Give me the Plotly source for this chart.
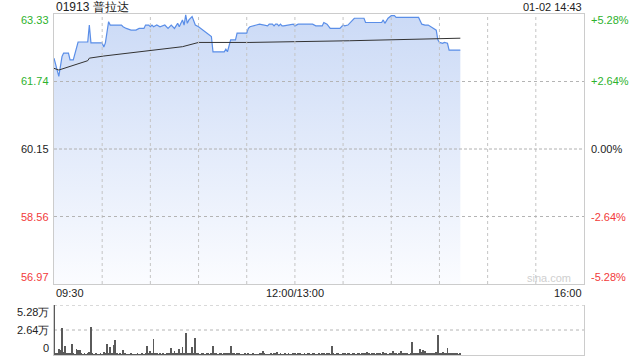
import plotly.graph_objects as go

# ---------------- data ----------------
stock_title = "01913 普拉达"
stamp = "01-02 14:43"
prev_close = 60.15
price_ticks = [56.97, 58.56, 60.15, 61.74, 63.33]
pct_ticks = ["-5.28%", "-2.64%", "0.00%", "+2.64%", "+5.28%"]
vol_ticks = [0, 2.64, 5.28]
vol_tick_text = ["0", "2.64万", "5.28万"]
time_labels = ["09:30", "12:00/13:00", "16:00"]

price_times = ["09:30", "09:33", "09:35", "09:36", "09:39", "09:40", "09:42", "09:44", "09:45", "09:51",
               "09:52", "09:53", "10:00", "10:01", "10:02", "10:04", "10:05", "10:12", "10:13", "10:15",
               "10:18", "10:21", "10:23", "10:26", "10:27", "10:29", "10:30", "10:31", "10:32", "10:34",
               "10:36", "10:39", "10:41", "10:43", "10:45", "10:47", "10:48", "10:49", "10:50", "10:51",
               "10:52", "10:53", "10:54", "10:56", "10:58", "11:00", "11:08", "11:09", "11:16", "11:17",
               "11:18", "11:20", "11:23", "11:24", "11:30", "11:31", "11:32", "11:36", "11:38", "11:43",
               "11:44", "11:46", "11:47", "11:48", "11:49", "11:50", "11:51", "11:52", "11:53", "11:59",
               "13:00", "13:02", "13:11", "13:13", "13:17", "13:18", "13:20", "13:22", "13:28", "13:30",
               "13:31", "13:33", "13:37", "13:43", "13:44", "13:54", "13:55", "13:56", "13:58", "14:00",
               "14:02", "14:03", "14:17", "14:19", "14:21", "14:23", "14:26", "14:28", "14:29", "14:30",
               "14:32", "14:33", "14:35", "14:36", "14:43"]
price_values = [62.29, 61.86, 62.33, 62.41, 62.41, 62.25, 62.25, 62.53, 62.67, 62.67,
                63.07, 62.65, 62.65, 62.55, 62.65, 63.15, 63.07, 63.07, 63.03, 62.99,
                62.95, 62.95, 62.99, 62.99, 63.07, 63.07, 63.03, 63.07, 63.03, 63.07,
                63.03, 63.07, 62.99, 63.07, 62.99, 63.11, 63.03, 63.11, 63.19, 63.07,
                63.31, 63.11, 63.19, 63.27, 63.07, 63.03, 62.80, 62.44, 62.44, 62.50,
                62.44, 62.72, 62.72, 62.88, 62.88, 62.99, 63.03, 63.07, 63.09, 63.05,
                63.09, 63.09, 63.05, 63.09, 63.09, 63.05, 63.09, 63.05, 63.05, 63.09,
                63.05, 63.09, 63.09, 63.05, 63.05, 63.13, 63.09, 62.99, 62.99, 63.07,
                63.05, 63.07, 63.23, 63.23, 63.13, 63.13, 63.19, 63.11, 63.23, 63.29,
                63.29, 63.25, 63.25, 63.09, 63.07, 63.07, 62.99, 62.95, 62.72, 62.66,
                62.64, 62.66, 62.64, 62.48, 62.48]

avg_times = ["09:30", "09:33", "09:51", "09:52", "10:01", "10:30", "10:50", "11:00", "11:32",
             "13:34", "13:59", "14:28", "14:43"]
avg_values = [62.05, 62.01, 62.23, 62.29, 62.34, 62.48, 62.56, 62.66, 62.66,
              62.70, 62.72, 62.76, 62.76]

# volume per minute (万), 09:30 onward
volume = [
    5.30, 0.15, 0.20, 0.63, 0.50, 2.82, 0.30, 0.95, 0.15, 0.20,
    0.12, 1.16, 0.20, 0.10, 0.60, 0.53, 0.53, 0.15, 0.10, 0.12,
    0.10, 0.15, 0.35, 2.99, 0.25, 0.10, 0.12, 0.08, 0.10, 0.15,
    0.10, 0.35, 0.12, 1.16, 0.20, 0.88, 0.15, 1.06, 1.58, 0.12,
    0.10, 0.15, 0.10, 0.53, 0.12, 0.10, 0.08, 0.10, 0.12, 0.10,
    0.08, 0.10, 0.12, 0.08, 0.10, 0.15, 0.10, 0.12, 0.95, 0.20,
    0.40, 0.15, 1.69, 0.20, 0.12, 0.10, 0.15, 0.10, 0.12, 0.10,
    0.15, 0.20, 0.12, 0.70, 0.15, 0.40, 0.12, 0.15, 0.63, 0.20,
    0.88, 0.15, 2.36, 0.20, 0.12, 0.15, 0.88, 0.20, 1.83, 0.15,
    0.12, 0.10, 0.15, 0.12, 0.10, 0.12, 0.15, 0.10, 0.20, 0.95,
    0.15, 0.12, 0.10, 0.12, 0.15, 0.10, 0.12, 0.20, 0.15, 0.20,
    0.95, 0.15, 0.12, 0.10, 0.25, 0.12, 0.10, 0.08, 0.10, 0.12,
    0.10, 0.12, 0.08, 0.10, 0.12, 0.10, 0.08, 0.10, 0.12, 0.15,
    0.46, 0.12, 0.10, 0.08, 0.10, 0.12, 0.10, 0.15, 0.12, 0.30,
    0.10, 0.12, 0.08, 0.10, 0.15, 0.10, 0.12, 0.10, 0.08, 0.15,
    0.12, 0.10, 0.15, 0.12, 0.10, 0.08, 0.12, 0.10, 0.15, 0.12,
    0.10, 0.12, 0.15, 0.10, 0.08, 0.12, 0.10, 0.15, 0.12, 0.10,
    0.12, 0.15, 0.10, 0.95, 0.12, 0.10, 0.15, 0.12, 0.10, 0.08,
    0.12, 0.15, 0.10, 0.12, 0.20, 0.10, 0.15, 0.12, 0.10, 0.15,
    0.12, 0.10, 0.20, 0.12, 0.15, 0.30, 0.12, 0.10, 0.15, 0.12,
    0.10, 0.15, 0.12, 0.20, 0.10, 0.35, 0.12, 0.15, 0.10, 0.12,
    0.20, 0.46, 0.12, 0.15, 0.10, 0.12, 0.46, 0.15, 0.12, 0.20,
    0.15, 0.10, 0.20, 1.37, 0.15, 0.20, 0.12, 0.25, 0.63, 0.30,
    0.53, 0.42, 0.20, 0.15, 0.20, 0.12, 0.25, 0.20, 0.30, 2.11,
    0.25, 0.20, 0.30, 0.15, 0.20, 0.70, 0.20, 0.15, 0.25, 0.15,
    0.12, 0.15, 0.10, 0.12,
]


def to_idx(t):
    h, m = map(int, t.split(":"))
    mins = h * 60 + m
    if mins >= 13 * 60:
        return 150 + mins - 13 * 60
    return mins - (9 * 60 + 30)


px = [to_idx(t) for t in price_times]
ax = [to_idx(t) for t in avg_times]
vx = list(range(len(volume)))

W, H = 640, 360
L, R = 54, 584
T1, B1 = 14, 284
T2, B2 = 305, 355

GREEN = "#2db22d"
RED = "#f23a3a"
DARK = "#222222"
FONT = "Liberation Sans, Arial, sans-serif"
GRID = "#c4c4c4"
HGRID = "#b4b4b4"

fig = go.Figure()

fig.add_trace(go.Scatter(x=px, y=[price_ticks[0]] * len(px), mode="lines",
                         line=dict(width=0, color="rgba(0,0,0,0)"), hoverinfo="skip",
                         showlegend=False, xaxis="x", yaxis="y"))
fig.add_trace(go.Scatter(x=px, y=price_values, mode="lines",
                         line=dict(color="#5a8ee8", width=1.2),
                         fill="tonexty",
                         fillgradient=dict(type="vertical",
                                           colorscale=[[0, "#fbfcff"], [1, "#cbdaf6"]],
                                           start=price_ticks[0], stop=price_ticks[-1]),
                         showlegend=False, xaxis="x", yaxis="y"))
fig.add_trace(go.Scatter(x=ax, y=avg_values, mode="lines",
                         line=dict(color="#333333", width=1),
                         showlegend=False, xaxis="x", yaxis="y"))
fig.add_trace(go.Bar(x=vx, y=volume, width=0.5,
                     marker=dict(color="#5a5a5a", line=dict(width=0)),
                     showlegend=False, xaxis="x2", yaxis="y2"))

grid_x = list(range(30, 330, 30))
fig.update_layout(
    width=W, height=H, margin=dict(l=0, r=0, t=0, b=0),
    paper_bgcolor="white", plot_bgcolor="rgba(0,0,0,0)",
    font=dict(family=FONT, size=11, color=DARK),
    bargap=0,
    xaxis=dict(domain=[L / W, R / W], range=[0, 330], showticklabels=False, showgrid=False,
               showline=True, mirror=True, linecolor="#cccccc", linewidth=1,
               zeroline=False, ticks="", anchor="y", fixedrange=True),
    yaxis=dict(domain=[(H - B1) / H, (H - T1) / H], range=[price_ticks[0], price_ticks[-1]],
               showticklabels=False, showgrid=False,
               showline=True, mirror=True, linecolor="#cccccc", linewidth=1,
               zeroline=False, ticks="", anchor="x", fixedrange=True),
    xaxis2=dict(domain=[L / W, R / W], range=[0, 330], showticklabels=False, showgrid=False,
                showline=True, mirror=False, linecolor="#cccccc", linewidth=1,
                zeroline=False, ticks="", anchor="y2", fixedrange=True),
    yaxis2=dict(domain=[(H - B2) / H, (H - T2) / H], range=[0, vol_ticks[-1]],
                showticklabels=False, showgrid=False,
                showline=True, mirror=True, linecolor="#cccccc", linewidth=1,
                zeroline=False, ticks="", anchor="x2", fixedrange=True),
)

shapes = []
for g in grid_x:
    shapes.append(dict(type="line", xref="x", yref="paper", x0=g, x1=g,
                       y0=(H - B1) / H, y1=(H - T1) / H,
                       line=dict(color=GRID, width=1, dash="dot"), layer="above"))
for v in (price_ticks[1], price_ticks[3]):
    shapes.append(dict(type="line", xref="paper", yref="y", x0=L / W, x1=R / W, y0=v, y1=v,
                       line=dict(color=HGRID, width=1, dash="dot"), layer="above"))
shapes.append(dict(type="line", xref="paper", yref="y", x0=L / W, x1=R / W, y0=prev_close, y1=prev_close,
                   line=dict(color="#b0b0b0", width=1, dash="3px,2px"), layer="above"))
for v in vol_ticks[1:]:
    shapes.append(dict(type="line", xref="paper", yref="y2", x0=L / W, x1=R / W, y0=v, y1=v,
                       line=dict(color=HGRID, width=1, dash="dot"), layer="below"))
fig.update_layout(shapes=shapes)

ann = []
ann.append(dict(text=stock_title, x=L / W, y=(H - 7) / H, xref="paper", yref="paper",
                xanchor="left", yanchor="middle", showarrow=False,
                font=dict(size=12, color=DARK, family=FONT)))
ann.append(dict(text=stamp, x=R / W, y=(H - 7) / H, xref="paper", yref="paper",
                xanchor="right", yanchor="middle", showarrow=False,
                font=dict(size=11, color=DARK, family=FONT)))

shifts = [7, 0, 0, 0, -6]
for i, v in enumerate(price_ticks):
    col = GREEN if v > prev_close else (RED if v < prev_close else DARK)
    ann.append(dict(text=f"{v:.2f}", x=51 / W, y=v, xref="paper", yref="y",
                    xanchor="right", yanchor="middle", yshift=shifts[i], showarrow=False,
                    font=dict(size=11, color=col, family=FONT)))
    ann.append(dict(text=pct_ticks[i], x=589 / W, y=v, xref="paper", yref="y",
                    xanchor="left", yanchor="middle", yshift=shifts[i], showarrow=False,
                    font=dict(size=11, color=col, family=FONT)))

ann.append(dict(text=time_labels[0], x=L / W, y=(H - 293) / H, xref="paper", yref="paper",
                xanchor="left", yanchor="middle", showarrow=False, font=dict(size=11, color=DARK)))
ann.append(dict(text=time_labels[1], x=150, y=(H - 293) / H, xref="x", yref="paper",
                xanchor="center", yanchor="middle", showarrow=False, font=dict(size=11, color=DARK)))
ann.append(dict(text=time_labels[2], x=R / W, y=(H - 293) / H, xref="paper", yref="paper",
                xanchor="right", yanchor="middle", showarrow=False, font=dict(size=11, color=DARK)))

vshift = [7, 0, -7]
for i, v in enumerate(vol_ticks):
    ann.append(dict(text=vol_tick_text[i], x=51 / W, y=v, xref="paper", yref="y2",
                    xanchor="right", yanchor="middle", yshift=vshift[i], showarrow=False,
                    font=dict(size=11, color=DARK, family=FONT)))

ann.append(dict(text="sina.com", x=549 / W, y=(H - 278) / H, xref="paper", yref="paper",
                xanchor="center", yanchor="middle", showarrow=False,
                font=dict(size=11, color="#cfcfcf", family=FONT)))

fig.update_layout(annotations=ann)
fig.write_html("out.html")
